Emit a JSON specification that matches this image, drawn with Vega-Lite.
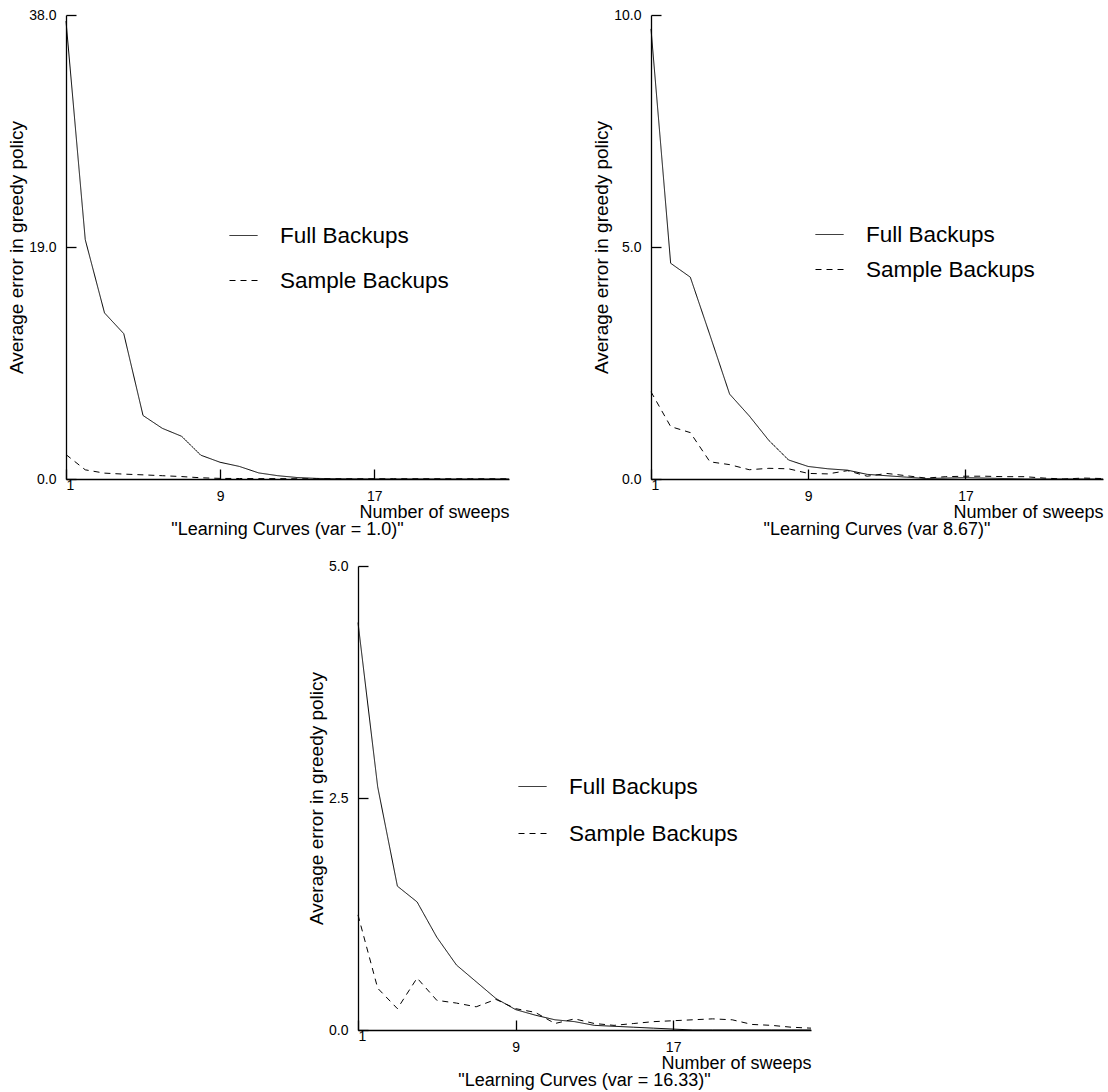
{
  "$schema": "https://vega.github.io/schema/vega-lite/v6.json",
  "padding": {"left": 7, "top": 8, "right": 0, "bottom": 0},
  "background": "white",
  "config": {
    "font": "Liberation Sans",
    "view": {"stroke": null},
    "axis": {
      "grid": false,
      "domainColor": "black",
      "tickColor": "black",
      "labelColor": "black",
      "titleColor": "black",
      "labelFont": "Liberation Sans",
      "titleFont": "Liberation Sans",
      "titleFontWeight": "normal",
      "labelFontSize": 14,
      "titleFontSize": 18,
      "domainWidth": 1.3,
      "tickWidth": 1.3
    },
    "legend": {
      "labelFont": "Liberation Sans",
      "labelFontSize": 22.5,
      "labelColor": "black",
      "labelLimit": 400,
      "symbolType": "stroke",
      "symbolSize": 784,
      "symbolStrokeColor": "black",
      "symbolStrokeWidth": 1,
      "labelOffset": 22,
      "padding": 0,
      "title": null
    },
    "title": {"font": "Liberation Sans", "fontSize": 18, "fontWeight": "normal", "color": "black", "orient": "bottom", "frame": "group", "anchor": "middle"}
  },
  "datasets": {
    "p1": [
      {"sweep": 1, "series": "Full Backups", "error": 37.5},
      {"sweep": 2, "series": "Full Backups", "error": 19.6},
      {"sweep": 3, "series": "Full Backups", "error": 13.6},
      {"sweep": 4, "series": "Full Backups", "error": 11.9},
      {"sweep": 5, "series": "Full Backups", "error": 5.2},
      {"sweep": 6, "series": "Full Backups", "error": 4.15},
      {"sweep": 7, "series": "Full Backups", "error": 3.5},
      {"sweep": 8, "series": "Full Backups", "error": 1.95},
      {"sweep": 9, "series": "Full Backups", "error": 1.37},
      {"sweep": 10, "series": "Full Backups", "error": 1.03},
      {"sweep": 11, "series": "Full Backups", "error": 0.5},
      {"sweep": 12, "series": "Full Backups", "error": 0.27},
      {"sweep": 13, "series": "Full Backups", "error": 0.12},
      {"sweep": 14, "series": "Full Backups", "error": 0.05},
      {"sweep": 15, "series": "Full Backups", "error": 0.02},
      {"sweep": 16, "series": "Full Backups", "error": 0.01},
      {"sweep": 17, "series": "Full Backups", "error": 0.0},
      {"sweep": 18, "series": "Full Backups", "error": 0.0},
      {"sweep": 19, "series": "Full Backups", "error": 0.0},
      {"sweep": 20, "series": "Full Backups", "error": 0.0},
      {"sweep": 21, "series": "Full Backups", "error": 0.0},
      {"sweep": 22, "series": "Full Backups", "error": 0.0},
      {"sweep": 23, "series": "Full Backups", "error": 0.0},
      {"sweep": 24, "series": "Full Backups", "error": 0.0},
      {"sweep": 1, "series": "Sample Backups", "error": 2.0},
      {"sweep": 2, "series": "Sample Backups", "error": 0.75},
      {"sweep": 3, "series": "Sample Backups", "error": 0.48},
      {"sweep": 4, "series": "Sample Backups", "error": 0.4},
      {"sweep": 5, "series": "Sample Backups", "error": 0.34},
      {"sweep": 6, "series": "Sample Backups", "error": 0.27},
      {"sweep": 7, "series": "Sample Backups", "error": 0.2},
      {"sweep": 8, "series": "Sample Backups", "error": 0.1},
      {"sweep": 9, "series": "Sample Backups", "error": 0.05},
      {"sweep": 10, "series": "Sample Backups", "error": 0.04},
      {"sweep": 11, "series": "Sample Backups", "error": 0.03},
      {"sweep": 12, "series": "Sample Backups", "error": 0.03},
      {"sweep": 13, "series": "Sample Backups", "error": 0.02},
      {"sweep": 14, "series": "Sample Backups", "error": 0.02},
      {"sweep": 15, "series": "Sample Backups", "error": 0.02},
      {"sweep": 16, "series": "Sample Backups", "error": 0.02},
      {"sweep": 17, "series": "Sample Backups", "error": 0.02},
      {"sweep": 18, "series": "Sample Backups", "error": 0.02},
      {"sweep": 19, "series": "Sample Backups", "error": 0.02},
      {"sweep": 20, "series": "Sample Backups", "error": 0.02},
      {"sweep": 21, "series": "Sample Backups", "error": 0.02},
      {"sweep": 22, "series": "Sample Backups", "error": 0.02},
      {"sweep": 23, "series": "Sample Backups", "error": 0.02},
      {"sweep": 24, "series": "Sample Backups", "error": 0.02}
    ],
    "p2": [
      {"sweep": 1, "series": "Full Backups", "error": 9.7},
      {"sweep": 2, "series": "Full Backups", "error": 4.65},
      {"sweep": 3, "series": "Full Backups", "error": 4.35},
      {"sweep": 4, "series": "Full Backups", "error": 3.1},
      {"sweep": 5, "series": "Full Backups", "error": 1.83},
      {"sweep": 6, "series": "Full Backups", "error": 1.36},
      {"sweep": 7, "series": "Full Backups", "error": 0.83},
      {"sweep": 8, "series": "Full Backups", "error": 0.41},
      {"sweep": 9, "series": "Full Backups", "error": 0.27},
      {"sweep": 10, "series": "Full Backups", "error": 0.22},
      {"sweep": 11, "series": "Full Backups", "error": 0.19},
      {"sweep": 12, "series": "Full Backups", "error": 0.1},
      {"sweep": 13, "series": "Full Backups", "error": 0.07},
      {"sweep": 14, "series": "Full Backups", "error": 0.04},
      {"sweep": 15, "series": "Full Backups", "error": 0.01},
      {"sweep": 16, "series": "Full Backups", "error": 0.02},
      {"sweep": 17, "series": "Full Backups", "error": 0.03},
      {"sweep": 18, "series": "Full Backups", "error": 0.02},
      {"sweep": 19, "series": "Full Backups", "error": 0.01},
      {"sweep": 20, "series": "Full Backups", "error": 0.0},
      {"sweep": 21, "series": "Full Backups", "error": 0.0},
      {"sweep": 22, "series": "Full Backups", "error": 0.0},
      {"sweep": 23, "series": "Full Backups", "error": 0.0},
      {"sweep": 24, "series": "Full Backups", "error": 0.0},
      {"sweep": 1, "series": "Sample Backups", "error": 1.88},
      {"sweep": 2, "series": "Sample Backups", "error": 1.13},
      {"sweep": 3, "series": "Sample Backups", "error": 1.0},
      {"sweep": 4, "series": "Sample Backups", "error": 0.37},
      {"sweep": 5, "series": "Sample Backups", "error": 0.31},
      {"sweep": 6, "series": "Sample Backups", "error": 0.2},
      {"sweep": 7, "series": "Sample Backups", "error": 0.23},
      {"sweep": 8, "series": "Sample Backups", "error": 0.22},
      {"sweep": 9, "series": "Sample Backups", "error": 0.12},
      {"sweep": 10, "series": "Sample Backups", "error": 0.11},
      {"sweep": 11, "series": "Sample Backups", "error": 0.18},
      {"sweep": 12, "series": "Sample Backups", "error": 0.06},
      {"sweep": 13, "series": "Sample Backups", "error": 0.12},
      {"sweep": 14, "series": "Sample Backups", "error": 0.07},
      {"sweep": 15, "series": "Sample Backups", "error": 0.02},
      {"sweep": 16, "series": "Sample Backups", "error": 0.05},
      {"sweep": 17, "series": "Sample Backups", "error": 0.06},
      {"sweep": 18, "series": "Sample Backups", "error": 0.06},
      {"sweep": 19, "series": "Sample Backups", "error": 0.05},
      {"sweep": 20, "series": "Sample Backups", "error": 0.05},
      {"sweep": 21, "series": "Sample Backups", "error": 0.02},
      {"sweep": 22, "series": "Sample Backups", "error": 0.0},
      {"sweep": 23, "series": "Sample Backups", "error": 0.02},
      {"sweep": 24, "series": "Sample Backups", "error": 0.01}
    ],
    "p3": [
      {"sweep": 1, "series": "Full Backups", "error": 4.39},
      {"sweep": 2, "series": "Full Backups", "error": 2.62},
      {"sweep": 3, "series": "Full Backups", "error": 1.55},
      {"sweep": 4, "series": "Full Backups", "error": 1.38},
      {"sweep": 5, "series": "Full Backups", "error": 1.0},
      {"sweep": 6, "series": "Full Backups", "error": 0.7},
      {"sweep": 7, "series": "Full Backups", "error": 0.52},
      {"sweep": 8, "series": "Full Backups", "error": 0.34},
      {"sweep": 9, "series": "Full Backups", "error": 0.22},
      {"sweep": 10, "series": "Full Backups", "error": 0.16},
      {"sweep": 11, "series": "Full Backups", "error": 0.11},
      {"sweep": 12, "series": "Full Backups", "error": 0.09},
      {"sweep": 13, "series": "Full Backups", "error": 0.05},
      {"sweep": 14, "series": "Full Backups", "error": 0.04},
      {"sweep": 15, "series": "Full Backups", "error": 0.03},
      {"sweep": 16, "series": "Full Backups", "error": 0.02},
      {"sweep": 17, "series": "Full Backups", "error": 0.01},
      {"sweep": 18, "series": "Full Backups", "error": 0.0},
      {"sweep": 19, "series": "Full Backups", "error": 0.0},
      {"sweep": 20, "series": "Full Backups", "error": 0.0},
      {"sweep": 21, "series": "Full Backups", "error": 0.0},
      {"sweep": 22, "series": "Full Backups", "error": 0.0},
      {"sweep": 23, "series": "Full Backups", "error": 0.0},
      {"sweep": 24, "series": "Full Backups", "error": 0.0},
      {"sweep": 1, "series": "Sample Backups", "error": 1.24},
      {"sweep": 2, "series": "Sample Backups", "error": 0.45},
      {"sweep": 3, "series": "Sample Backups", "error": 0.23},
      {"sweep": 4, "series": "Sample Backups", "error": 0.56},
      {"sweep": 5, "series": "Sample Backups", "error": 0.32},
      {"sweep": 6, "series": "Sample Backups", "error": 0.29},
      {"sweep": 7, "series": "Sample Backups", "error": 0.25},
      {"sweep": 8, "series": "Sample Backups", "error": 0.33},
      {"sweep": 9, "series": "Sample Backups", "error": 0.23},
      {"sweep": 10, "series": "Sample Backups", "error": 0.19},
      {"sweep": 11, "series": "Sample Backups", "error": 0.07},
      {"sweep": 12, "series": "Sample Backups", "error": 0.12},
      {"sweep": 13, "series": "Sample Backups", "error": 0.07},
      {"sweep": 14, "series": "Sample Backups", "error": 0.05},
      {"sweep": 15, "series": "Sample Backups", "error": 0.07},
      {"sweep": 16, "series": "Sample Backups", "error": 0.09},
      {"sweep": 17, "series": "Sample Backups", "error": 0.1},
      {"sweep": 18, "series": "Sample Backups", "error": 0.11},
      {"sweep": 19, "series": "Sample Backups", "error": 0.12},
      {"sweep": 20, "series": "Sample Backups", "error": 0.11},
      {"sweep": 21, "series": "Sample Backups", "error": 0.06},
      {"sweep": 22, "series": "Sample Backups", "error": 0.05},
      {"sweep": 23, "series": "Sample Backups", "error": 0.03},
      {"sweep": 24, "series": "Sample Backups", "error": 0.02}
    ]
  },
  "vconcat": [
    {
      "hconcat": [
        {
          "width": 443,
          "height": 464,
          "data": {"name": "p1"},
          "title": {"text": "\"Learning Curves (var = 1.0)\"", "offset": 0},
          "mark": {"type": "line", "color": "black", "strokeWidth": 1},
          "encoding": {
            "x": {"field": "sweep", "type": "quantitative", "scale": {"domain": [1, 24]},
              "axis": {"values": [1, 9, 17], "format": "d", "title": "Number of sweeps", "titleAnchor": "end", "titleAlign": "right", "titlePadding": 0, "tickSize": -10,
                "labelPadding": {"condition": {"test": "datum.value == 1", "value": 9}, "value": 20}}},
            "y": {"field": "error", "type": "quantitative", "scale": {"domain": [0, 38]},
              "axis": {"values": [0, 19, 38], "format": ".1f", "title": "Average error in greedy policy", "titleFontSize": 19, "titlePadding": 2, "tickSize": -10, "labelPadding": 20}},
            "strokeDash": {"field": "series", "type": "nominal",
              "scale": {"domain": ["Full Backups", "Sample Backups"], "range": [[1, 0], [6, 5]]},
              "legend": {"orient": "none", "legendX": 163, "legendY": 206, "rowPadding": 19}}
          }
        },
        {
          "width": 452,
          "height": 464,
          "data": {"name": "p2"},
          "title": {"text": "\"Learning Curves (var 8.67)\"", "offset": 0},
          "mark": {"type": "line", "color": "black", "strokeWidth": 1},
          "encoding": {
            "x": {"field": "sweep", "type": "quantitative", "scale": {"domain": [1, 24]},
              "axis": {"values": [1, 9, 17], "format": "d", "title": "Number of sweeps", "titleAnchor": "end", "titleAlign": "right", "titlePadding": 0, "tickSize": -10,
                "labelPadding": {"condition": {"test": "datum.value == 1", "value": 9}, "value": 20}}},
            "y": {"field": "error", "type": "quantitative", "scale": {"domain": [0, 10]},
              "axis": {"values": [0, 5, 10], "format": ".1f", "title": "Average error in greedy policy", "titleFontSize": 19, "titlePadding": 2, "tickSize": -10, "labelPadding": 20}},
            "strokeDash": {"field": "series", "type": "nominal",
              "scale": {"domain": ["Full Backups", "Sample Backups"], "range": [[1, 0], [6, 5]]},
              "legend": {"orient": "none", "legendX": 164, "legendY": 205, "rowPadding": 9}}
          }
        }
      ],
      "spacing": 81,
      "resolve": {"scale": {"strokeDash": "independent"}, "legend": {"strokeDash": "independent"}}
    },
    {
      "width": 453,
      "height": 464,
      "data": {"name": "p3"},
      "title": {"text": "\"Learning Curves (var = 16.33)\"", "offset": 0},
      "mark": {"type": "line", "color": "black", "strokeWidth": 1},
      "encoding": {
        "x": {"field": "sweep", "type": "quantitative", "scale": {"domain": [1, 24]},
          "axis": {"values": [1, 9, 17], "format": "d", "title": "Number of sweeps", "titleAnchor": "end", "titleAlign": "right", "titlePadding": 0, "tickSize": -10,
            "labelPadding": {"condition": {"test": "datum.value == 1", "value": 9}, "value": 20}}},
        "y": {"field": "error", "type": "quantitative", "scale": {"domain": [0, 5]},
          "axis": {"values": [0, 2.5, 5], "format": ".1f", "title": "Average error in greedy policy", "titleFontSize": 19, "titlePadding": 2, "tickSize": -10, "labelPadding": 20}},
        "strokeDash": {"field": "series", "type": "nominal",
          "scale": {"domain": ["Full Backups", "Sample Backups"], "range": [[1, 0], [6, 5]]},
          "legend": {"orient": "none", "legendX": 160, "legendY": 206, "rowPadding": 21}}
      }
    }
  ],
  "spacing": 20,
  "center": true,
  "resolve": {"scale": {"strokeDash": "independent"}, "legend": {"strokeDash": "independent"}}
}
